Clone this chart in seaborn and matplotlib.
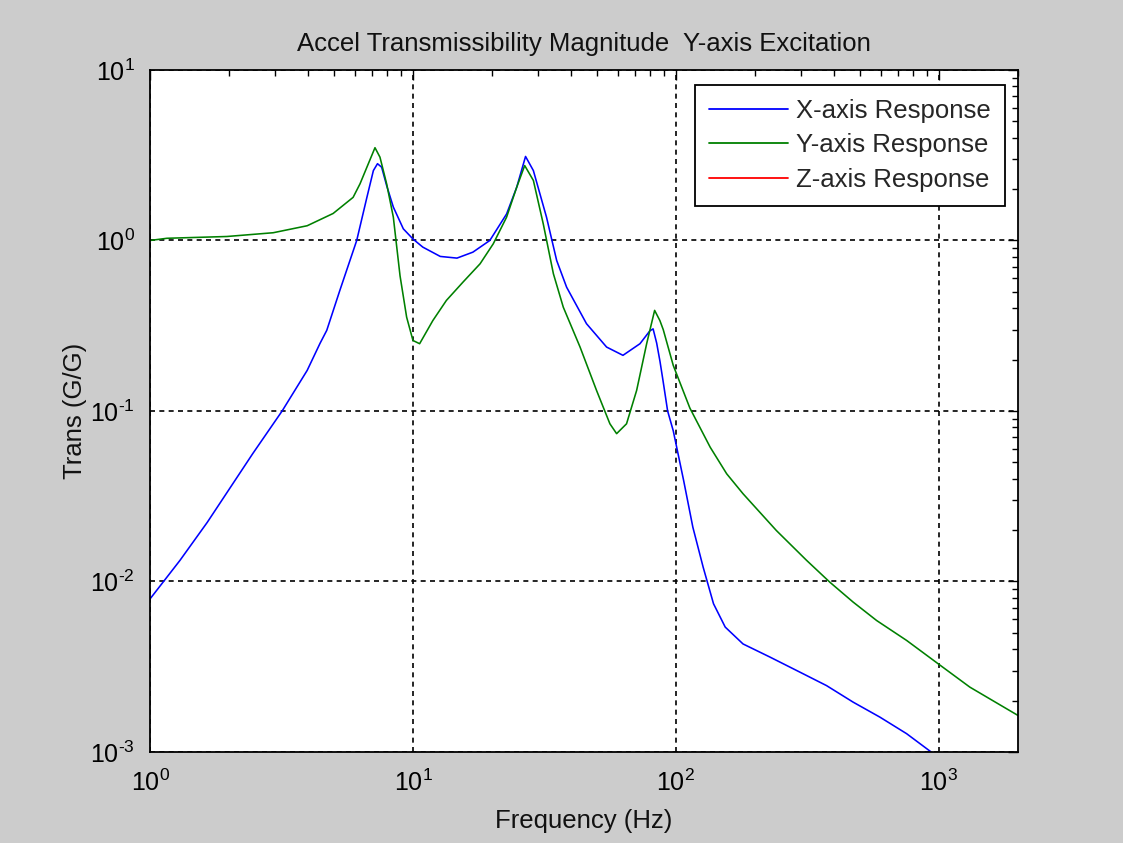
import matplotlib
matplotlib.use("Agg")
import matplotlib.pyplot as plt
import matplotlib.ticker as mticker
import numpy as np
import pandas as pd
import seaborn as sns

# Transmissibility magnitude (G/G) vs frequency (Hz), Y-axis excitation
x_freq = [1.0, 1.30, 1.65, 2.46, 3.18, 3.96, 4.43, 4.70, 5.27, 6.11, 6.68, 7.07,
          7.33, 7.60, 7.94, 8.42, 9.19, 10.0, 10.9, 12.7, 14.7, 16.9, 19.6, 22.7,
          24.8, 26.8, 28.7, 32.2, 35.2, 38.4, 45.7, 54.5, 62.9, 73.0, 79.6, 81.9,
          84.5, 87.0, 89.3, 93.0, 97.7, 107, 116, 127, 139, 154, 180, 228, 296, 374,
          472, 597, 754, 951, 1000]
x_trans = [0.0079, 0.0133, 0.0222, 0.0563, 0.100, 0.173, 0.249, 0.297, 0.509, 1.00,
           1.79, 2.57, 2.82, 2.69, 2.10, 1.57, 1.17, 1.02, 0.914, 0.806, 0.788, 0.854,
           1.00, 1.43, 2.05, 3.11, 2.57, 1.37, 0.763, 0.532, 0.325, 0.237, 0.212,
           0.248, 0.295, 0.303, 0.25, 0.195, 0.151, 0.100, 0.0765, 0.0391, 0.0208,
           0.0121, 0.0074, 0.0054, 0.0043, 0.0036, 0.00294, 0.00245, 0.00196,
           0.0016, 0.00128, 0.00098, 0.00093]

y_freq = [1.0, 1.16, 1.96, 2.94, 3.96, 4.97, 5.92, 6.29, 6.68, 7.17, 7.49, 7.94,
          8.42, 8.93, 9.46, 10.0, 10.6, 11.9, 13.4, 15.5, 18.0, 20.2, 22.7, 24.8,
          26.6, 28.7, 31.3, 34.2, 37.3, 43.2, 49.9, 56.1, 59.5, 64.9, 70.9, 77.4,
          83.0, 86.9, 89.5, 97.7, 113, 135, 156, 180, 241, 314, 385, 472, 580, 754,
          994, 1312, 1996]
y_trans = [1.00, 1.03, 1.055, 1.11, 1.22, 1.44, 1.79, 2.15, 2.69, 3.50, 3.08, 2.15,
           1.37, 0.62, 0.355, 0.259, 0.248, 0.339, 0.445, 0.570, 0.730, 0.956, 1.37,
           2.05, 2.75, 2.25, 1.25, 0.638, 0.406, 0.237, 0.132, 0.0841, 0.0736,
           0.0841, 0.132, 0.248, 0.389, 0.339, 0.300, 0.185, 0.104, 0.0613, 0.0428,
           0.0327, 0.0199, 0.0133, 0.0099, 0.00757, 0.0059, 0.00451, 0.00329,
           0.0024, 0.00164]

# Z-axis response stays below the plotted range
z_freq = []
z_trans = []

series_names = ["X-axis Response", "Y-axis Response", "Z-axis Response"]
series_colors = ["#0000ff", "#008000", "#ff0000"]

title_text = "Accel Transmissibility Magnitude  Y-axis Excitation"
x_label = "Frequency (Hz)"
y_label = "Trans (G/G)"

sns.set_theme(style="white")
plt.rcParams["font.family"] = ["Liberation Sans", "DejaVu Sans"]
plt.rcParams["mathtext.fontset"] = "custom"
plt.rcParams["mathtext.rm"] = "Liberation Sans"
plt.rcParams["mathtext.default"] = "regular"
plt.rcParams["axes.unicode_minus"] = False

fig = plt.figure(figsize=(11.23, 8.43), dpi=100, facecolor="#cccccc")
ax = fig.add_axes([0.1336, 0.108, 0.7729, 0.809])
ax.set_facecolor("white")

frames = []
for name, f, t in zip(series_names, [x_freq, y_freq, z_freq], [x_trans, y_trans, z_trans]):
    frames.append(pd.DataFrame({"freq": f, "trans": t, "series": name}))
df = pd.concat([fr for fr in frames if len(fr)], ignore_index=True)

sns.lineplot(data=df, x="freq", y="trans", hue="series",
             hue_order=series_names[:2], palette=series_colors[:2],
             estimator=None, sort=False, linewidth=1.15, ax=ax, legend=False)
ax.plot(z_freq, z_trans, color=series_colors[2], linewidth=1.15)

ax.set_xscale("log")
ax.set_yscale("log")
ax.set_xlim(1, 2000)
ax.set_ylim(1e-3, 1e1)


def decade_label(val, pos):
    # "10" with the exponent as a superscript, using a plain hyphen for negatives
    e = int(round(np.log10(val)))
    exp = (r"\text{-}" + str(-e)) if e < 0 else str(e)
    return r"$10^{" + exp + "}$"


ax.xaxis.set_major_locator(mticker.LogLocator(base=10, numticks=10))
ax.yaxis.set_major_locator(mticker.LogLocator(base=10, numticks=10))
ax.xaxis.set_major_formatter(mticker.FuncFormatter(decade_label))
ax.yaxis.set_major_formatter(mticker.FuncFormatter(decade_label))
ax.xaxis.set_minor_locator(mticker.LogLocator(base=10, subs=np.arange(2, 10), numticks=20))
ax.yaxis.set_minor_locator(mticker.LogLocator(base=10, subs=np.arange(2, 10), numticks=20))
ax.xaxis.set_minor_formatter(mticker.NullFormatter())
ax.yaxis.set_minor_formatter(mticker.NullFormatter())

ax.grid(True, which="major", color="black", linestyle=(0, (3, 2.6)), linewidth=1.2)
ax.grid(False, which="minor")

ax.tick_params(which="both", direction="in", top=True, right=True, colors="black",
               labelsize=18)
ax.tick_params(which="major", length=7, width=1.0)
ax.tick_params(which="minor", length=4, width=1.0)
ax.tick_params(axis="x", which="major", pad=13)
ax.tick_params(axis="y", which="major", pad=11)
for sp in ax.spines.values():
    sp.set_color("black")
    sp.set_linewidth(1.3)

ax.set_title(title_text, fontsize=18.5, pad=14, color="#111111")
ax.set_xlabel(x_label, fontsize=18.5, labelpad=9, color="#111111")
ax.set_ylabel(y_label, fontsize=18.5, labelpad=2, color="#111111")

handles = [plt.Line2D([], [], color=c, linewidth=1.3) for c in series_colors]
leg = ax.legend(handles, series_names, loc="upper right", fontsize=18.5,
                frameon=True, fancybox=False, edgecolor="black", framealpha=1,
                handlelength=3.1, handletextpad=0.3, borderpad=0.55,
                labelspacing=0.40, borderaxespad=0,
                bbox_to_anchor=(0.985, 0.978))
leg.get_frame().set_linewidth(1.3)

fig.savefig("out.png", dpi=100, facecolor=fig.get_facecolor())
